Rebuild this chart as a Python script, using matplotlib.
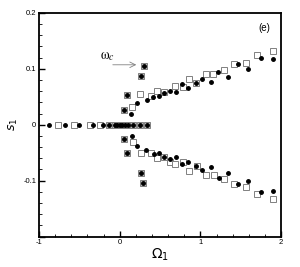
import numpy as np
import matplotlib
matplotlib.use("Agg")
import matplotlib.pyplot as plt
from matplotlib.ticker import MultipleLocator

plt.rcParams['font.family'] = ['Liberation Sans', 'DejaVu Sans']
plt.rcParams['mathtext.fontset'] = 'dejavusans'

# points on s1 = 0
zero_dot_x = [-0.876, -0.674, -0.50, -0.337, -0.213]
zero_sq_x = [-0.765, -0.563, -0.374, -0.238]
zero_both_x = [-0.13, -0.06, -0.03, 0.0, 0.03, 0.06, 0.10, 0.16, 0.25, 0.335]

# square and dot at the same place
both_x = [0.305, 0.26, 0.087, 0.053, 0.057, 0.087, 0.26, 0.29]
both_y = [0.104, 0.087, 0.053, 0.026, -0.026, -0.051, -0.086, -0.104]

# upper branch
up_sq_x = [0.156, 0.25, 0.39, 0.46, 0.55, 0.69, 0.78, 0.86, 0.95, 1.07, 1.16, 1.29, 1.42, 1.565, 1.705, 1.895]
up_sq_y = [0.032, 0.054, 0.051, 0.060, 0.059, 0.070, 0.068, 0.082, 0.075, 0.090, 0.090, 0.098, 0.108, 0.110, 0.124, 0.132]
up_dot_x = [0.14, 0.21, 0.335, 0.41, 0.49, 0.55, 0.62, 0.70, 0.77, 0.85, 0.94, 1.02, 1.13, 1.22, 1.34, 1.47, 1.59, 1.75, 1.90]
up_dot_y = [0.020, 0.038, 0.045, 0.050, 0.051, 0.057, 0.061, 0.059, 0.073, 0.065, 0.074, 0.081, 0.076, 0.095, 0.086, 0.108, 0.100, 0.120, 0.117]

# lower branch
lo_sq_x = [0.17, 0.27, 0.39, 0.466, 0.55, 0.62, 0.69, 0.78, 0.86, 0.96, 1.07, 1.17, 1.29, 1.42, 1.565, 1.705, 1.895]
lo_sq_y = [-0.031, -0.051, -0.050, -0.060, -0.058, -0.066, -0.070, -0.067, -0.082, -0.074, -0.089, -0.089, -0.097, -0.106, -0.111, -0.124, -0.132]
lo_dot_x = [0.149, 0.22, 0.33, 0.42, 0.49, 0.55, 0.62, 0.70, 0.77, 0.85, 0.94, 1.02, 1.13, 1.23, 1.34, 1.47, 1.59, 1.75, 1.90]
lo_dot_y = [-0.020, -0.0375, -0.045, -0.052, -0.051, -0.057, -0.062, -0.058, -0.071, -0.066, -0.073, -0.081, -0.076, -0.095, -0.086, -0.106, -0.100, -0.121, -0.118]

sq_style = dict(linestyle='none', marker='s', markersize=5, markerfacecolor='white',
                markeredgecolor='#808080', markeredgewidth=0.7)
both_style = dict(linestyle='none', marker='s', markersize=5, markerfacecolor='#c8c8c8',
                  markeredgecolor='#808080', markeredgewidth=0.7)
dot_style = dict(linestyle='none', marker='o', markersize=2.5, color='black')

fig = plt.figure(figsize=(3.0, 2.67), dpi=100)
ax = fig.add_axes([0.13, 0.1135, 0.807, 0.8389])

# squares first, dots on top
ax.plot(zero_sq_x, np.zeros(len(zero_sq_x)), **sq_style)
ax.plot(up_sq_x, up_sq_y, **sq_style)
ax.plot(lo_sq_x, lo_sq_y, **sq_style)
ax.plot(zero_both_x, np.zeros(len(zero_both_x)), **both_style)
ax.plot(both_x, both_y, **both_style)

ax.plot(zero_dot_x, np.zeros(len(zero_dot_x)), **dot_style)
ax.plot(zero_both_x, np.zeros(len(zero_both_x)), **dot_style)
ax.plot(both_x, both_y, **dot_style)
ax.plot(up_dot_x, up_dot_y, **dot_style)
ax.plot(lo_dot_x, lo_dot_y, **dot_style)

ax.set_xlim(-1, 2)
ax.set_ylim(-0.2, 0.2)
ax.xaxis.set_minor_locator(MultipleLocator(0.2))
ax.yaxis.set_minor_locator(MultipleLocator(0.02))
ax.set_xticks([-1, 0, 1, 2])
ax.set_xticklabels(['-1', '0', '1', '2'])
ax.set_yticks([-0.2, -0.1, 0, 0.1, 0.2])
ax.set_yticklabels(['', '-0.1', '0', '0.1', '0.2'])

ax.tick_params(which='both', direction='in', top=False, right=False, labelsize=5.5, pad=2)
ax.tick_params(which='major', length=4, width=1)
ax.tick_params(which='minor', length=2.5, width=0.6)
for s in ax.spines.values():
    s.set_linewidth(1.3)

ax.set_xlabel(r'$\Omega_1$', fontsize=10, labelpad=0)
ax.set_ylabel(r'$s_1$', fontsize=9, labelpad=2)

ax.text(0.955, 0.93, '(e)', transform=ax.transAxes, ha='right', va='center', fontsize=7)
ax.annotate('', xy=(0.24, 0.107), xytext=(-0.12, 0.107),
            arrowprops=dict(arrowstyle='->', color='#808080', lw=0.6))
ax.text(-0.25, 0.117, r'$\mathrm{\omega}_c$', fontsize=10, math_fontfamily='stix')

fig.savefig('out.png', dpi=100)
